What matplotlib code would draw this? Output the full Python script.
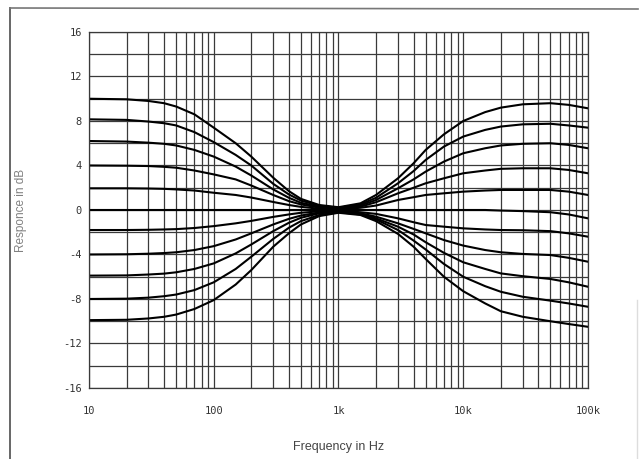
import matplotlib
matplotlib.use("Agg")
import matplotlib.pyplot as plt
from matplotlib.lines import Line2D
from matplotlib.ticker import FixedLocator, NullFormatter

freqs = [10, 20, 30, 40, 50, 70, 100, 150, 200, 300, 400, 500, 700, 1000,
         1500, 2000, 3000, 4000, 5000, 7000, 10000, 15000, 20000, 30000,
         50000, 70000, 100000]

# response in dB, one list per control setting (boost +10 .. cut -10)
boost_10 = [10.0, 9.95, 9.8, 9.6, 9.3, 8.6, 7.4, 6.0, 4.8, 2.9, 1.7, 1.0, 0.45, 0.25,
            0.6, 1.35, 2.85, 4.2, 5.4, 6.8, 8.0, 8.8, 9.2, 9.5, 9.6, 9.45, 9.14]
boost_8 = [8.15, 8.1, 7.95, 7.8, 7.6, 7.0, 6.1, 4.95, 4.0, 2.35, 1.4, 0.85, 0.38, 0.2,
           0.5, 1.1, 2.4, 3.5, 4.5, 5.7, 6.6, 7.2, 7.5, 7.7, 7.75, 7.6, 7.4]
boost_6 = [6.2, 6.15, 6.05, 5.95, 5.8, 5.4, 4.8, 3.9, 3.1, 1.85, 1.1, 0.65, 0.3, 0.15,
           0.4, 0.9, 1.95, 2.75, 3.45, 4.35, 5.1, 5.55, 5.8, 5.95, 6.0, 5.85, 5.55]
boost_4 = [4.0, 3.98, 3.95, 3.88, 3.8, 3.55, 3.2, 2.75, 2.2, 1.35, 0.8, 0.5, 0.22, 0.1,
           0.3, 0.7, 1.5, 2.0, 2.4, 2.85, 3.3, 3.55, 3.7, 3.75, 3.75, 3.6, 3.3]
boost_2 = [1.95, 1.95, 1.93, 1.9, 1.85, 1.75, 1.55, 1.35, 1.12, 0.72, 0.45, 0.28, 0.12, 0.05,
           0.2, 0.4, 0.9, 1.15, 1.35, 1.5, 1.65, 1.75, 1.8, 1.8, 1.8, 1.65, 1.35]
flat_0 = [0, 0, 0, 0, 0, 0, 0, 0, 0, 0, 0, 0, 0, 0,
          0, 0, 0, 0, 0, 0, 0, 0, -0.05, -0.1, -0.2, -0.4, -0.75]
cut_2 = [-1.8, -1.8, -1.78, -1.75, -1.72, -1.62, -1.45, -1.2, -0.98, -0.62, -0.4, -0.25, -0.12, -0.05,
         -0.2, -0.35, -0.75, -1.1, -1.35, -1.5, -1.65, -1.75, -1.8, -1.82, -1.9, -2.1, -2.4]
cut_4 = [-4.0, -3.98, -3.93, -3.87, -3.8, -3.6, -3.25, -2.65, -2.1, -1.3, -0.8, -0.5, -0.22, -0.1,
         -0.3, -0.6, -1.2, -1.7, -2.1, -2.7, -3.2, -3.6, -3.8, -3.95, -4.05, -4.3, -4.65]
cut_6 = [-5.9, -5.88, -5.8, -5.72, -5.6, -5.3, -4.8, -3.9, -3.1, -1.9, -1.15, -0.7, -0.3, -0.15,
         -0.35, -0.75, -1.5, -2.2, -2.9, -3.85, -4.7, -5.3, -5.7, -5.95, -6.2, -6.5, -6.9]
cut_8 = [-8.0, -7.97, -7.88, -7.75, -7.6, -7.2, -6.5, -5.3, -4.2, -2.6, -1.6, -1.0, -0.45, -0.2,
         -0.4, -0.85, -1.8, -2.75, -3.55, -4.85, -6.0, -6.85, -7.35, -7.8, -8.15, -8.4, -8.7]
cut_10 = [-9.9, -9.87, -9.75, -9.6, -9.4, -8.9, -8.1, -6.7, -5.4, -3.3, -2.1, -1.3, -0.55, -0.25,
          -0.45, -1.0, -2.15, -3.3, -4.4, -6.0, -7.3, -8.4, -9.1, -9.6, -10.0, -10.25, -10.5]

curves = [boost_10, boost_8, boost_6, boost_4, boost_2, flat_0,
          cut_2, cut_4, cut_6, cut_8, cut_10]

x_ticks = [10, 100, 1000, 10000, 100000]
x_tick_labels = ["10", "100", "1k", "10k", "100k"]
y_ticks = [16, 12, 8, 4, 0, -4, -8, -12, -16]
y_tick_labels = ["16", "12", "8", "4", "0", "-4", "-8", "-12", "-16"]

fig = plt.figure(figsize=(6.41, 4.59), dpi=100)
ax = fig.add_axes([0.1388, 0.1547, 0.7785, 0.7756])

for c in curves:
    ax.plot(freqs, c, color="black", lw=1.5, solid_joinstyle="round")

ax.set_xscale("log")
ax.set_xlim(10, 100000)
ax.set_ylim(-16, 16)

# dense log grid + 2 dB horizontal grid
minor_x = [m * 10 ** d for d in range(1, 5) for m in range(2, 10)]
ax.xaxis.set_minor_locator(FixedLocator(minor_x))
ax.xaxis.set_minor_formatter(NullFormatter())
ax.yaxis.set_minor_locator(FixedLocator(list(range(-16, 17, 2))))
ax.grid(True, which="both", color="#3a3a3a", lw=0.9)
ax.set_axisbelow(True)

ax.set_xticks(x_ticks)
ax.set_xticklabels(x_tick_labels)
ax.set_yticks(y_ticks)
ax.set_yticklabels(y_tick_labels)
ax.tick_params(which="both", length=0)
ax.tick_params(axis="x", pad=13)
ax.tick_params(axis="y", pad=5)
for lab in ax.get_xticklabels() + ax.get_yticklabels():
    lab.set_family("DejaVu Sans Mono")
    lab.set_fontsize(7.5)
    lab.set_color("#333333")

for s in ax.spines.values():
    s.set_color("#3a3a3a")
    s.set_linewidth(0.9)

ax.set_xlabel("Frequency in Hz", family="Liberation Sans", fontsize=9,
              color="#444444", labelpad=18)
ax.set_ylabel("Responce in dB", family="Liberation Sans", fontsize=8.5,
              color="#808080", labelpad=26)

# scanned page frame
fig.add_artist(Line2D([10 / 641, 10 / 641], [0, 1 - 8 / 459], color="#666666", lw=1.4))
fig.add_artist(Line2D([10 / 641, 638 / 641], [1 - 8 / 459, 1 - 9 / 459], color="#777777", lw=1.2))
fig.add_artist(Line2D([637 / 641, 637 / 641], [0, 1 - 300 / 459], color="#dddddd", lw=1.0))

fig.savefig("out.png", dpi=100)
